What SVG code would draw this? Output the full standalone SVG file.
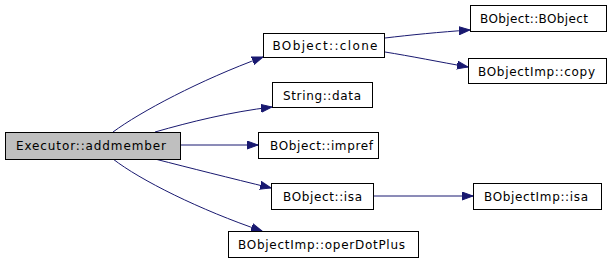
<svg xmlns="http://www.w3.org/2000/svg" width="613" height="265" viewBox="0 0 613 265">
<style>
.n rect{fill:#fff;stroke:#000;stroke-width:1}
.n.root rect{fill:#bfbfbf}
.n text{font-family:"DejaVu Sans",sans-serif;font-size:12px;fill:#000;text-anchor:middle}
.e path{fill:none;stroke:#191970;stroke-width:1}
</style>
<defs>
<marker id="ah" markerUnits="userSpaceOnUse" markerWidth="12" markerHeight="9" refX="11" refY="4.5" orient="auto">
<path d="M0,0.5 L11,4.5 L0,8.5 z" fill="#191970" stroke="#191970"/>
</marker>
</defs>
<g class="e">
<path d="M113,132 C140,112 200,80 263,57" marker-end="url(#ah)"/>
<path d="M155,132 C190,122 230,112 272,107" marker-end="url(#ah)"/>
<path d="M180,145 L258,145" marker-end="url(#ah)"/>
<path d="M155,159 C190,168 230,178 271,188" marker-end="url(#ah)"/>
<path d="M113,159 C140,180 200,210 262,231" marker-end="url(#ah)"/>
<path d="M385,38 C410,35 440,32 470,30" marker-end="url(#ah)"/>
<path d="M385,52 C410,56 440,62 468,67" marker-end="url(#ah)"/>
<path d="M374,196 L473,196" marker-end="url(#ah)"/>
</g>
<g id="addmember" class="n root"><rect x="5.5" y="132.5" width="175" height="27"/><text x="91" y="150" textLength="150" lengthAdjust="spacing">Executor::addmember</text></g>
<g id="clone" class="n"><rect x="263.5" y="33.5" width="121" height="24"/><text x="325" y="50" textLength="105" lengthAdjust="spacing">BObject::clone</text></g>
<g id="data" class="n"><rect x="272.5" y="82.5" width="100" height="25"/><text x="322" y="99.5" textLength="78" lengthAdjust="spacing">String::data</text></g>
<g id="impref" class="n"><rect x="258.5" y="132.5" width="120" height="26"/><text x="321.5" y="150" textLength="103" lengthAdjust="spacing">BObject::impref</text></g>
<g id="isa" class="n"><rect x="271.5" y="183.5" width="102" height="26"/><text x="322.5" y="200.5" textLength="79" lengthAdjust="spacing">BObject::isa</text></g>
<g id="operDotPlus" class="n"><rect x="228.5" y="231.5" width="190" height="26"/><text x="321.5" y="248.5" textLength="167" lengthAdjust="spacing">BObjectImp::operDotPlus</text></g>
<g id="bobject" class="n"><rect x="470.5" y="5.5" width="136" height="26"/><text x="534" y="22.5" textLength="108" lengthAdjust="spacing">BObject::BObject</text></g>
<g id="copy" class="n"><rect x="468.5" y="58.5" width="138" height="25"/><text x="536.5" y="75.5" textLength="117" lengthAdjust="spacing">BObjectImp::copy</text></g>
<g id="impisa" class="n"><rect x="473.5" y="183.5" width="128" height="26"/><text x="536" y="200.5" textLength="104" lengthAdjust="spacing">BObjectImp::isa</text></g>
</svg>
